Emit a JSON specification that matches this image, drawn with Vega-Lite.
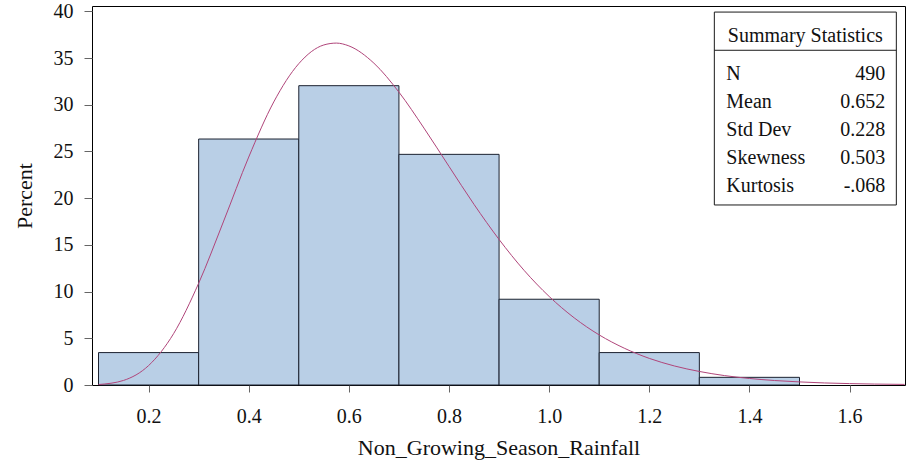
{
  "$schema": "https://vega.github.io/schema/vega-lite/v6.json",
  "width": 813,
  "height": 379,
  "autosize": {"type": "none"},
  "padding": {"left": 92, "top": 6, "right": 11, "bottom": 82},
  "background": "white",
  "config": {
    "view": {"stroke": "#000000", "strokeWidth": 1},
    "font": "Liberation Serif",
    "style": {
      "guide-label": {"font": "Liberation Serif", "fontSize": 20, "fill": "#111111"},
      "guide-title": {"font": "Liberation Serif", "fontSize": 22, "fontWeight": "normal", "fill": "#111111"}
    },
    "axis": {
      "labelFont": "Liberation Serif",
      "titleFont": "Liberation Serif",
      "labelFontSize": 20,
      "titleFontSize": 22,
      "titleFontWeight": "normal",
      "labelColor": "#111111",
      "titleColor": "#111111",
      "tickColor": "#666666",
      "domain": false,
      "grid": false,
      "labelOverlap": false,
      "labelBound": false
    }
  },
  "datasets": {
    "bins": [
      {"bin_start": 0.1, "bin_end": 0.3, "pct": 3.47},
      {"bin_start": 0.3, "bin_end": 0.5, "pct": 26.33},
      {"bin_start": 0.5, "bin_end": 0.7, "pct": 32.04},
      {"bin_start": 0.7, "bin_end": 0.9, "pct": 24.69},
      {"bin_start": 0.9, "bin_end": 1.1, "pct": 9.18},
      {"bin_start": 1.1, "bin_end": 1.3, "pct": 3.47},
      {"bin_start": 1.3, "bin_end": 1.5, "pct": 0.82}
    ],
    "curve": [
      {"x": 0.10, "pct": 0.05},
      {"x": 0.15, "pct": 0.49},
      {"x": 0.20, "pct": 2.08},
      {"x": 0.25, "pct": 5.50},
      {"x": 0.30, "pct": 10.89},
      {"x": 0.35, "pct": 17.55},
      {"x": 0.40, "pct": 24.40},
      {"x": 0.45, "pct": 30.30},
      {"x": 0.50, "pct": 34.40},
      {"x": 0.55, "pct": 36.40},
      {"x": 0.575, "pct": 36.60},
      {"x": 0.60, "pct": 36.30},
      {"x": 0.65, "pct": 34.45},
      {"x": 0.70, "pct": 31.35},
      {"x": 0.75, "pct": 27.50},
      {"x": 0.80, "pct": 23.40},
      {"x": 0.85, "pct": 19.33},
      {"x": 0.90, "pct": 15.58},
      {"x": 0.95, "pct": 12.27},
      {"x": 1.00, "pct": 9.48},
      {"x": 1.05, "pct": 7.19},
      {"x": 1.10, "pct": 5.36},
      {"x": 1.15, "pct": 3.94},
      {"x": 1.20, "pct": 2.85},
      {"x": 1.25, "pct": 2.04},
      {"x": 1.30, "pct": 1.45},
      {"x": 1.35, "pct": 1.01},
      {"x": 1.40, "pct": 0.70},
      {"x": 1.45, "pct": 0.48},
      {"x": 1.50, "pct": 0.33},
      {"x": 1.55, "pct": 0.22},
      {"x": 1.60, "pct": 0.15},
      {"x": 1.65, "pct": 0.10},
      {"x": 1.71, "pct": 0.065}
    ],
    "stats": [
      {"stat": "N", "value": "490"},
      {"stat": "Mean", "value": "0.652"},
      {"stat": "Std Dev", "value": "0.228"},
      {"stat": "Skewness", "value": "0.503"},
      {"stat": "Kurtosis", "value": "-.068"}
    ]
  },
  "layer": [
    {
      "layer": [
        {
          "data": {"name": "bins"},
          "mark": {"type": "rect", "fill": "#B9CFE6", "stroke": "#1c2230", "strokeWidth": 1},
          "encoding": {
            "x": {
              "field": "bin_start", "type": "quantitative",
              "scale": {"domain": [0.087, 1.7107], "nice": false, "zero": false},
              "axis": {"values": [0.2, 0.4, 0.6, 0.8, 1.0, 1.2, 1.4, 1.6], "format": ".1f", "tickSize": 7, "labelPadding": 14, "titlePadding": 11, "labelFont": "Liberation Serif", "titleFont": "Liberation Serif"},
              "title": "Non_Growing_Season_Rainfall"
            },
            "x2": {"field": "bin_end"},
            "y": {
              "field": "pct", "type": "quantitative",
              "scale": {"domain": [0, 40.57], "nice": false},
              "axis": {"values": [0, 5, 10, 15, 20, 25, 30, 35, 40], "tickSize": 8, "labelPadding": 11, "titlePadding": 17, "labelFont": "Liberation Serif", "titleFont": "Liberation Serif"},
              "title": "Percent"
            },
            "y2": {"datum": 0}
          }
        },
        {
          "data": {"name": "curve"},
          "mark": {"type": "line", "color": "#B0457A", "strokeWidth": 1, "interpolate": "monotone"},
          "encoding": {
            "x": {"field": "x", "type": "quantitative", "title": "Non_Growing_Season_Rainfall"},
            "y": {"field": "pct", "type": "quantitative", "title": "Percent"}
          }
        },
        {
          "data": {"values": [{"item": "box"}]},
          "mark": {"type": "rect", "fill": "white", "stroke": "#1a1a1a", "strokeWidth": 1},
          "encoding": {
            "x": {"datum": 1.3299, "type": "quantitative", "title": "Non_Growing_Season_Rainfall"},
            "x2": {"datum": 1.6934},
            "y": {"datum": 39.92, "type": "quantitative", "title": "Percent"},
            "y2": {"datum": 19.27}
          }
        },
        {
          "data": {"values": [{"item": "sep"}]},
          "mark": {"type": "rule", "stroke": "#1a1a1a", "strokeWidth": 1},
          "encoding": {
            "x": {"datum": 1.3299, "type": "quantitative", "title": "Non_Growing_Season_Rainfall"},
            "x2": {"datum": 1.6934},
            "y": {"datum": 35.83, "type": "quantitative", "title": "Percent"}
          }
        },
        {
          "data": {"values": [{"label": "Summary Statistics"}]},
          "mark": {"type": "text", "font": "Liberation Serif", "fontSize": 20, "color": "#111111", "align": "center", "baseline": "alphabetic"},
          "encoding": {
            "x": {"datum": 1.5116, "type": "quantitative", "title": "Non_Growing_Season_Rainfall"},
            "y": {"datum": 36.75, "type": "quantitative", "title": "Percent"},
            "text": {"field": "label"}
          }
        }
      ]
    },
    {
      "data": {"name": "stats"},
      "layer": [
        {
          "mark": {"type": "text", "font": "Liberation Serif", "fontSize": 20, "color": "#111111", "align": "left", "baseline": "alphabetic"},
          "encoding": {
            "x": {"datum": 1.3538, "type": "quantitative", "title": "Non_Growing_Season_Rainfall"},
            "y": {"field": "stat", "type": "ordinal", "scale": {"type": "point", "domain": ["N", "Mean", "Std Dev", "Skewness", "Kurtosis"], "range": [74, 185.6], "padding": 0}, "axis": null},
            "text": {"field": "stat"}
          }
        },
        {
          "mark": {"type": "text", "font": "Liberation Serif", "fontSize": 20, "color": "#111111", "align": "right", "baseline": "alphabetic"},
          "encoding": {
            "x": {"datum": 1.6714, "type": "quantitative", "title": "Non_Growing_Season_Rainfall"},
            "y": {"field": "stat", "type": "ordinal", "axis": null},
            "text": {"field": "value"}
          }
        }
      ]
    }
  ],
  "resolve": {"scale": {"y": "independent"}, "axis": {"y": "independent"}}
}
